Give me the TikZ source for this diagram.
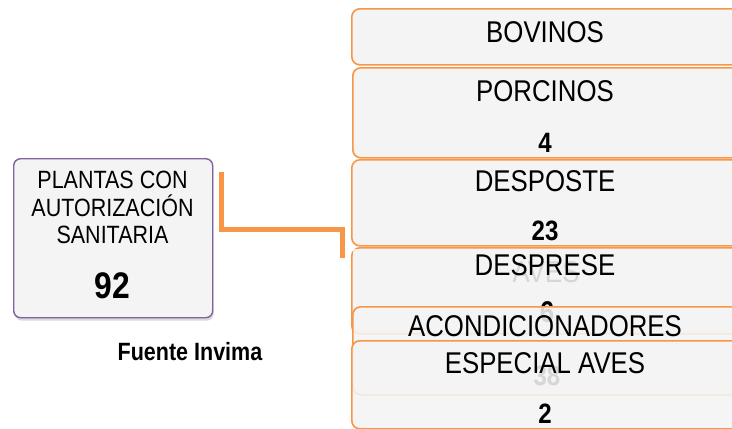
\documentclass[tikz,border=0pt]{standalone}
\usepackage{fontspec}
\setmainfont{Liberation Sans}[FakeStretch=0.86]
\usetikzlibrary{positioning,shadows}
\definecolor{boxorange}{RGB}{247,150,70}
\definecolor{boxpurple}{RGB}{128,100,162}
\definecolor{boxfill}{RGB}{244,244,244}
\tikzset{
  catbox/.style={draw=boxorange,line width=1.6pt,fill=boxfill,
    rounded corners=8pt,minimum width=388pt,anchor=north west,inner sep=0pt},
  veilbox/.style={catbox,fill opacity=0.88},
  catlbl/.style={anchor=base,inner sep=0pt,font=\fontsize{30}{32}\selectfont},
  catnum/.style={anchor=base,inner sep=0pt,font=\fontsize{28}{30}\selectfont\bfseries},
  plantlbl/.style={anchor=base,inner sep=0pt,font=\fontsize{25}{27}\selectfont},
}

\begin{document}
\begin{tikzpicture}[x=1pt,y=-1pt]
        \useasboundingbox (0,0) rectangle (732,429);
        \clip (0,0) rectangle (732,429);
        % left box
        \node[draw=boxpurple,line width=1.4pt,fill=boxfill,rounded corners=7pt,
              minimum width=199pt,minimum height=159pt,anchor=north west,
              drop shadow={shadow xshift=1pt,shadow yshift=-3pt,opacity=0.3}]
          (plantas) at (13,158) {};
        \node[plantlbl] (plantas l1) at (112.5,188) {PLANTAS CON};
        \node[plantlbl] (plantas l2) at (112.5,216) {AUTORIZACIÓN};
        \node[plantlbl] (plantas l3) at (112.5,243) {SANITARIA};
        \node[anchor=base,inner sep=0pt,font=\fontsize{37}{40}\selectfont\bfseries]
          (plantas num) at (112.5,298) {92};
        \node[anchor=base,inner sep=0pt,font=\fontsize{25}{27}\selectfont\bfseries]
          (fuente) at (190,360) {Fuente Invima};
        % bracket connector
        \coordinate (brk in) at ([xshift=8pt,yshift=-14pt]plantas.north east);
        % right boxes
        \node[catbox,minimum height=56pt] (bovinos) at (351,8) {};
        \node[catlbl] (bovinos l) at (545,42) {BOVINOS};
        \node[catbox,minimum height=90pt] (porcinos) at (352,67) {};
        \node[catlbl] (porcinos l) at (545,101) {PORCINOS};
        \node[catnum] (porcinos n) at (545,152) {4};
        \node[catbox,minimum height=86pt] (desposte) at (351,159) {};
        \node[catlbl] (desposte l) at (545,191) {DESPOSTE};
        \node[catnum] (desposte n) at (545,240) {23};
        \node[catbox,minimum height=86pt] (desprese) at (351,247) {};
        \node[catlbl] (aves l) at (546,282) {AVES};
        \node[catnum,font=\fontsize{30}{32}\selectfont\bfseries] (aves n) at (547,322) {6};
        \fill[boxfill,fill opacity=0.88] (353,249) rectangle (737,299);
        \node[catlbl] (desprese l) at (545,275) {DESPRESE};
        \coordinate (brk out) at ([xshift=-9pt,yshift=-11pt]desprese.north west);
        \draw[boxorange,line width=5pt] (brk in) -- ++(0,57) -| (brk out);
        \node[veilbox,minimum height=88pt] (acond) at (352,306) {};
        \node[catlbl] (acond l) at (545,336) {ACONDICIONADORES};
        \node[catnum] (acond n) at (547,385) {38};
        \node[veilbox,minimum height=88pt] (especial) at (351,340) {};
        \node[catlbl] (especial l) at (545,373) {ESPECIAL AVES};
        \node[catnum] (especial n) at (545,423) {2};
      \end{tikzpicture}
\end{document}
